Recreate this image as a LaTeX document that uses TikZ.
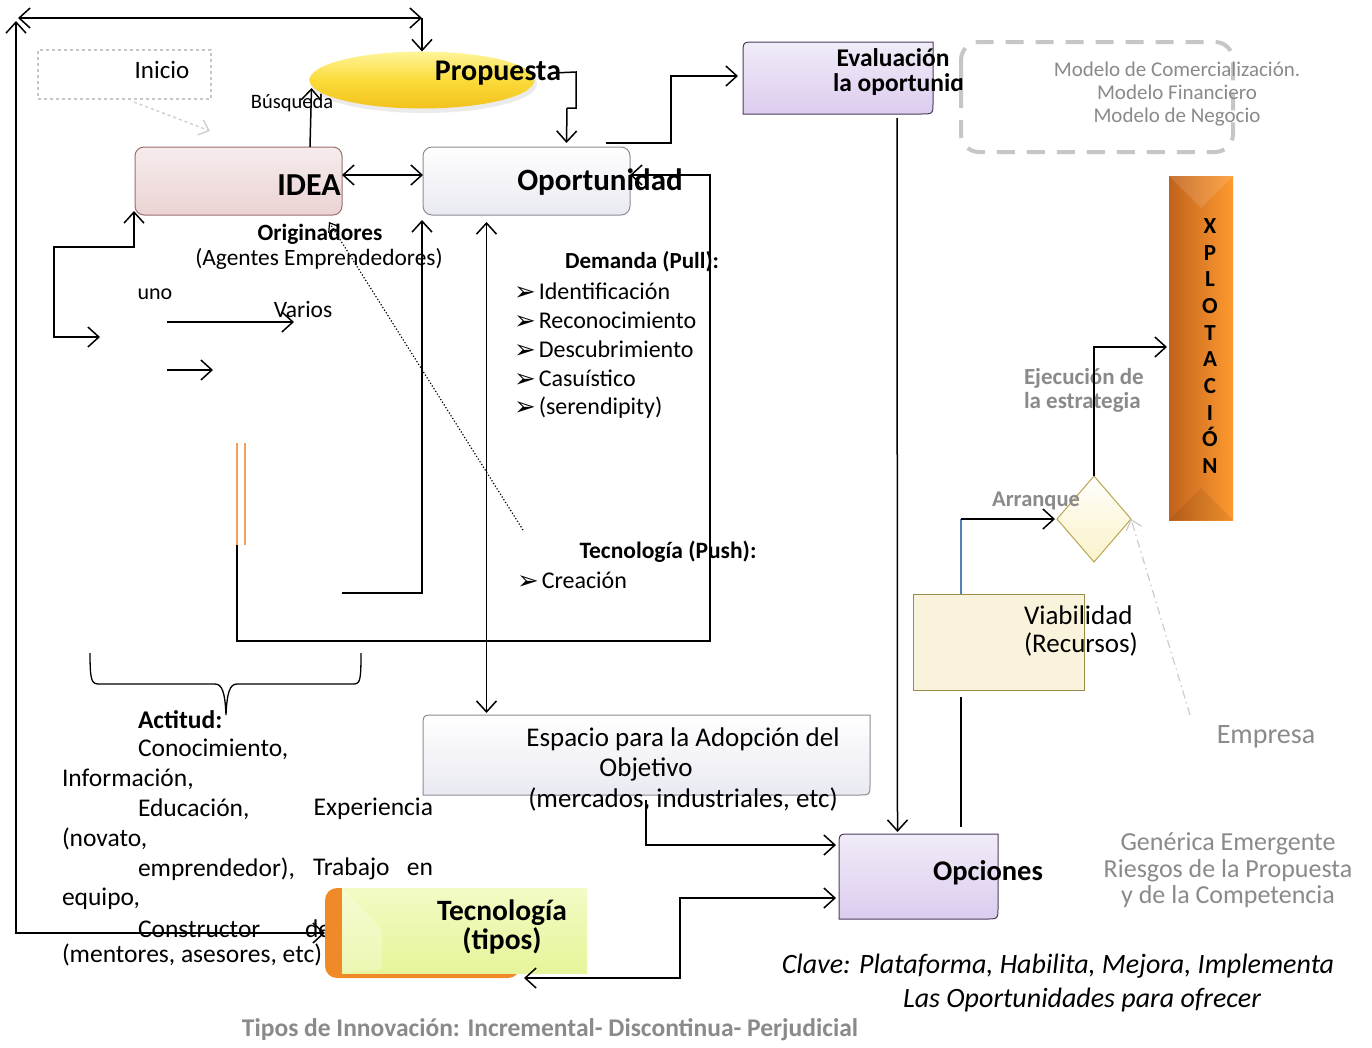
\documentclass[tikz,border=0pt]{standalone}
\usepackage{fontspec}
\setmainfont{Carlito}
\newfontfamily\dejavu{DejaVu Sans}
\usetikzlibrary{arrows.meta,calc,shapes.geometric}
\newcommand\fsz[1]{\fontsize{#1}{#1}\selectfont}
\newcommand\bul{{\dejavu\fontsize{26}{26}\selectfont\raisebox{-1pt}{➢}}}
\definecolor{grtxt}{HTML}{8A8A8A}
\definecolor{ideatop}{HTML}{F6ECEC}
\definecolor{ideabot}{HTML}{EBD3D3}
\definecolor{ideadraw}{HTML}{9A7070}
\definecolor{opdraw}{HTML}{8C8C96}
\definecolor{optop}{HTML}{FFFFFF}
\definecolor{opbot}{HTML}{E9E9F2}
\definecolor{lavtop}{HTML}{F1ECF8}
\definecolor{lavbot}{HTML}{DCCCEF}
\definecolor{lavdraw}{HTML}{4A3D5C}
\definecolor{goldtop}{HTML}{FFF59A}
\definecolor{goldmid}{HTML}{FADB3A}
\definecolor{goldbot}{HTML}{F3C21C}
\definecolor{orL}{HTML}{C0621C}
\definecolor{orR}{HTML}{FF9A30}
\definecolor{creamF}{HTML}{F9F3DC}
\definecolor{creamD}{HTML}{9A8C4A}
\definecolor{diaF}{HTML}{FBF3CC}
\definecolor{diaD}{HTML}{B8A650}
\definecolor{tecF}{HTML}{E6F59A}
\definecolor{tecT}{HTML}{F2FBC4}
\definecolor{tecO}{HTML}{F08A28}
\definecolor{orline}{HTML}{F2A060}
\definecolor{blueln}{HTML}{4F81BD}
\tikzset{
  t/.style={inner sep=0pt, outer sep=0pt},
  bx/.style={inner sep=0pt, outer sep=0pt},
  ln/.style={line width=1.5pt, black},
  arr/.style={ln, -{Straight Barb[length=11pt,width=20pt]}},
  rarr/.style={ln, {Straight Barb[length=11pt,width=20pt]}-},
  barr/.style={ln, {Straight Barb[length=11pt,width=20pt]}-{Straight Barb[length=11pt,width=20pt]}},
}
% diagonal rounded box (top-left and bottom-right corners rounded)
\newcommand\mydiagbox[3]{%
  \path[#3] ($(#1.north west)+(#2,0)$) -- (#1.north east) -- ($(#1.south east)+(0,-#2)$)
    .. controls (#1.south east) .. ($(#1.south east)+(-#2,0)$) -- (#1.south west)
    -- ($(#1.north west)+(0,#2)$) .. controls (#1.north west) .. ($(#1.north west)+(#2,0)$) -- cycle;}
\begin{document}
\begin{tikzpicture}[x=1pt,y=-1pt]
\fill[white] (0,0) rectangle (1372,1047);
\useasboundingbox (0,0) rectangle (1372,1047);

% ---------- Actitud block (behind Tecnologia box) ----------
\node[t, anchor=west, font=\fsz{25.5}\bfseries] (actitud) at (138,720) {Actitud:};
\node[t, anchor=west, font=\fsz{25.5}] (a1) at (138,749) {Conocimiento,};
\node[t, anchor=west, font=\fsz{25.5}] (a2) at (62,779) {Información,};
\node[t, anchor=west, font=\fsz{25.5}] (a3) at (138,809) {Educación,};
\node[t, anchor=east, font=\fsz{25.5}] (a3b) at (433,809) {Experiencia};
\node[t, anchor=west, font=\fsz{25.5}] (a4) at (62,839) {(novato,};
\node[t, anchor=west, font=\fsz{25.5}] (a5) at (138,869) {emprendedor),};
\node[t, anchor=west, font=\fsz{25.5}] (a5b) at (313,869) {Trabajo};
\node[t, anchor=east, font=\fsz{25.5}] (a5c) at (433,869) {en};
\node[t, anchor=west, font=\fsz{25.5}] (a6) at (62,899) {equipo,};
\node[t, anchor=west, font=\fsz{25.5}] (a7) at (138,929) {Constructor};
\node[t, anchor=west, font=\fsz{25.5}] (a7b) at (305,929) {de};
\node[t, anchor=west, font=\fsz{25.5}] (a8) at (62,955) {(mentores, asesores, etc)};

% brace
\draw[ln, line width=1.3pt] (90,653) .. controls (90,683) and (92,684) .. (100,684) -- (215,684)
  .. controls (222,684) and (225,692) .. (226,715) .. controls (227,692) and (230,684) .. (237,684)
  -- (352,684) .. controls (360,684) and (361,683) .. (361,653);

% ---------- Inicio ----------
\node[bx, draw=gray!45, dashed, line width=1.3pt, minimum width=173pt, minimum height=49pt] (inicio) at (124.5,74.5) {};
\node[t, font=\fsz{25}] (iniciot) at (162,70) {Inicio};
\draw[gray!35, dashed, line width=1.5pt, -{Straight Barb[length=9pt,width=16pt]}] (134,102) -- (210,131);

% ---------- Propuesta ----------
\fill[black, opacity=0.08] (424,84) ellipse (113pt and 29pt);
\node[bx, ellipse, minimum width=225pt, minimum height=57pt, top color=goldtop, bottom color=goldbot, middle color=goldmid] (prop) at (422,80) {};
\node[t, font=\fsz{30}\bfseries] (propt) at (498,73) {Propuesta};

% ---------- IDEA / Oportunidad ----------
\node[bx, minimum width=207pt, minimum height=68pt, rounded corners=9pt, draw=ideadraw, line width=1pt, top color=ideatop, bottom color=ideabot] (idea) at (238.5,181) {};
\node[t, font=\fsz{32}\bfseries] (ideat) at (309,185) {IDEA};
\node[bx, minimum width=207pt, minimum height=68pt, rounded corners=9pt, draw=opdraw, line width=1pt, top color=optop, bottom color=opbot] (oport) at (526.5,181) {};
\node[t, font=\fsz{31}\bfseries] (oportt) at (600,182) {Oportunidad};

% ---------- Evaluacion ----------
\node[bx, minimum width=190pt, minimum height=72pt] (eval) at (838,78) {};
\mydiagbox{eval}{12}{draw=lavdraw, line width=1pt, top color=lavtop, bottom color=lavbot}
\node[t, font=\fsz{25.5}\bfseries] (evalt) at (893,58) {Evaluación};
\begin{scope}
\clip (700,0) rectangle (962,200);
\node[t, anchor=west, font=\fsz{25.5}\bfseries] (evalt2) at (833,85) {la oportunidad};
\end{scope}

% ---------- dashed model box ----------
\node[bx, minimum width=272pt, minimum height=110pt] (model) at (1097,97) {};
\draw[gray!45, line width=4pt, dash pattern=on 18pt off 12pt, rounded corners=18pt] (model.north west) rectangle (model.south east);
\node[t, font=\fsz{21}, text=grtxt, align=center] (modelt) at (1177,94) {Modelo de Comercialización.\\[2pt]Modelo Financiero\\[2pt]Modelo de Negocio};

% ---------- XPLOTACION ----------
\node[bx, minimum width=64pt, minimum height=344pt, left color=orL, right color=orR] (xplo) at (1201,348) {};
\fill[white, opacity=0.12] (xplo.north west) -- (xplo.north east) -- ($(xplo.north)+(0,32)$) -- cycle;
\fill[black, opacity=0.07] (xplo.south west) -- (xplo.south east) -- ($(xplo.south)+(0,-32)$) -- cycle;
\node[t, font=\fontsize{23}{26.7}\selectfont\bfseries, align=center] (xplot) at (1210,346) {X\\P\\L\\O\\T\\A\\C\\I\\Ó\\N};

% ---------- diamond ----------
\node[bx, minimum width=74pt, minimum height=86pt] (dia) at (1094,519) {};
\path[draw=diaD, line width=1pt, top color=white, bottom color=diaF, middle color=diaF!60] (dia.north) -- (dia.east) -- (dia.south) -- (dia.west) -- cycle;
\node[t, font=\fsz{23}\bfseries, text=grtxt, anchor=west, align=left] (ejec) at (1024,390) {Ejecución de\\[1pt]la estrategia};
\node[t, font=\fsz{22.5}\bfseries, text=grtxt] (arranque) at (1036,501) {Arranque};

% ---------- Viabilidad ----------
\node[bx, minimum width=171pt, minimum height=96pt, draw=creamD, line width=1pt, fill=creamF] (viab) at (998.5,642) {};
\node[t, font=\fsz{27}, anchor=west, align=left] (viabt) at (1024,631) {Viabilidad\\[1pt](Recursos)};

% ---------- Empresa ----------
\node[t, font=\fsz{28}, text=grtxt] (empresa) at (1266,737) {Empresa};
\draw[gray!40, line width=1.2pt, dash pattern=on 8pt off 4pt on 1.5pt off 4pt, -{Straight Barb[length=9pt,width=16pt]}] (1190,715) -- (dia.east);

% ---------- Opciones ----------
\node[bx, minimum width=159pt, minimum height=85pt] (opc) at (918.5,876.5) {};
\mydiagbox{opc}{12}{draw=lavdraw, line width=1pt, top color=lavtop, bottom color=lavbot}
\node[t, font=\fsz{28.5}\bfseries] (opct) at (988,873) {Opciones};

\node[t, font=\fsz{26}, text=grtxt, align=center] (generica) at (1228,870) {Genérica Emergente\\[1pt]Riesgos de la Propuesta\\[0pt]y de la Competencia};

% ---------- Clave ----------
\node[t, font=\fsz{28}\itshape] (clave1) at (1058,966) {Clave: Plataforma, Habilita, Mejora, Implementa};
\node[t, font=\fsz{28}\itshape] (clave2) at (1082,1000) {Las Oportunidades para ofrecer};

% ---------- Espacio ----------
\node[bx, minimum width=447pt, minimum height=80pt] (esp) at (646.5,755) {};
\mydiagbox{esp}{12}{draw=opdraw, line width=1pt, top color=optop, bottom color=opbot}
\node[t, font=\fsz{27}] (esp1) at (683,739) {Espacio para la Adopción del};
\node[t, font=\fsz{27}] (esp2) at (646,769) {Objetivo};
\node[t, font=\fsz{27}] (esp3) at (683,799) {(mercados, industriales, etc)};

% ---------- Tecnologia (tipos) ----------
\node[bx, minimum width=195pt, minimum height=90pt, rounded corners=12pt, fill=tecO] (tecback) at (422.5,933) {};
\node[bx, minimum width=245pt, minimum height=85pt, top color=tecT, bottom color=tecF] (tec) at (464.5,930.5) {};
\fill[white, opacity=0.25] (tec.north west) -- ($(tec.north west)+(40,42)$) -- ($(tec.south west)+(40,-3)$) -- (tec.south west) -- cycle;
\node[t, font=\fsz{29.5}\bfseries, align=center] (tect) at (502,927) {Tecnología\\[0pt](tipos)};

% ---------- Texts middle ----------
\node[t, font=\fsz{20.5}] (busq) at (292,103) {Búsqueda};
\node[t, font=\fsz{23.3}\bfseries] (orig) at (320,234) {Originadores};
\node[t, font=\fsz{23.4}] (agentes) at (319,259) {(Agentes Emprendedores)};
\node[t, font=\fsz{22}] (uno) at (155,294) {uno};
\node[t, font=\fsz{23.5}] (varios) at (303,309) {Varios};
\node[t, font=\fsz{23}\bfseries] (demanda) at (642,262) {Demanda (Pull):};
\node[t, anchor=west, font=\fsz{24}] (d1) at (514,292) {\bul\hspace{3pt}Identificación};
\node[t, anchor=west, font=\fsz{24}] (d2) at (514,321) {\bul\hspace{3pt}Reconocimiento};
\node[t, anchor=west, font=\fsz{24}] (d3) at (514,350) {\bul\hspace{3pt}Descubrimiento};
\node[t, anchor=west, font=\fsz{24}] (d4) at (514,379) {\bul\hspace{3pt}Casuístico};
\node[t, anchor=west, font=\fsz{24}] (d5) at (514,408) {\bul\hspace{3pt}(serendipity)};
\node[t, font=\fsz{23.5}\bfseries] (push) at (668,552) {Tecnología (Push):};
\node[t, anchor=west, font=\fsz{24}] (creacion) at (517,581) {\bul\hspace{3pt}Creación};

\node[t, font=\fsz{25.5}\bfseries, text=grtxt] (tipos) at (550,1030) {Tipos de Innovación: Incremental- Discontinua- Perjudicial};

% ---------- connectors ----------
\coordinate (tl) at (16,18);
\coordinate (tr) at (422,18);
\draw[barr] (18,18) -- (tr);
\draw[arr] (tr) -- (prop.north);
\draw[barr] (16,21) -- (16,933) -- (tecback.west |- 0,933);

\draw[arr] ($(idea.north east)+(-32,0)$) -- ($(prop.west)+(2,8)$);
\draw[ln] ($(propt.east)+(-8,0)$) -- (576,72) -- (576,108) -- (567,108);
\draw[arr] (567,108) -- ($(oport.north)+(40,-4)$);
\draw[barr] ($(idea.east)+(0,-6)$) -- ($(oport.west)+(0,-6)$);

% big loop from orange lines back to Oportunidad
\draw[orline, line width=1.5pt] (237,443) -- (237,545) (245,443) -- (245,545);
\draw[arr] (237,545) -- (237,641) -- (710,641) -- (710,175) -- ($(oport.east)+(0,-6)$);

% small left path
\draw[barr] ($(idea.south west)+(-1,-4)$) -- (134,247) -- (54,247) -- (54,337) -- (100,337);
\draw[arr] (167,322) -- (294,322);
\draw[arr] (167,370) -- (213,370);

% dotted
\draw[black, line width=1.2pt, dotted, -{Straight Barb[length=8pt,width=12pt]}] (523,530) -- (329,222);

\draw[arr] (342,593) -- (422,593) -- ($(oport.south west)+(-1,5)$);
\draw[barr] ($(oport.south)+(-40,7)$) -- ($(esp.north)+(-160,-2)$);

% Oportunidad -> Evaluacion
\draw[arr] ($(oport.north east)+(-24,-4)$) -- (671,143) -- (671,76) -- ($(eval.west)+(-5,-2)$);
% Evaluacion -> Opciones
\draw[arr] ($(eval.south)+(59,4)$) -- ($(opc.north)+(-21,-2)$);

% Viabilidad -> diamond
\draw[blueln, line width=1.5pt] ($(viab.north west)+(48,0)$) -- (961,519);
\draw[arr] (961,519) -- ($(dia.west)+(-2,0)$);
% diamond -> XPLOTACION
\draw[arr] (dia.north) -- (1094,347) -- ($(xplo.west |- 0,347)+(-2,0)$);
% Viabilidad down
\draw[ln] (961,697) -- (961,827);

% Espacio -> Opciones
\draw[arr] (646,800) -- (646,845) -- ($(opc.west |- 0,845)+(-3,0)$);
% Tecnologia <-> Opciones
\draw[barr] (524,978) -- (680,978) -- (680,898) -- ($(opc.west |- 0,898)+(-3,0)$);

\end{tikzpicture}
\end{document}
